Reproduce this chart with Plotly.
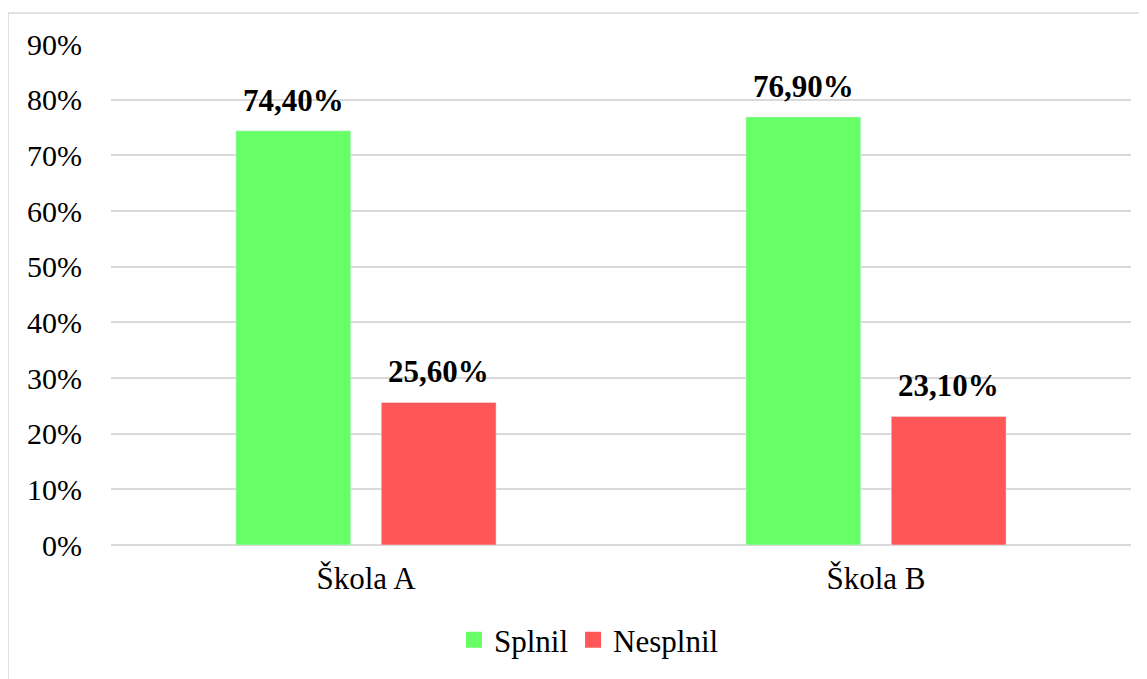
import plotly.graph_objects as go

categories = ["Škola A", "Škola B"]
splnil = [0.744, 0.769]
nesplnil = [0.256, 0.231]
splnil_labels = ["74,40%", "76,90%"]
nesplnil_labels = ["25,60%", "23,10%"]
tick_vals = [0, 0.1, 0.2, 0.3, 0.4, 0.5, 0.6, 0.7, 0.8, 0.9]
tick_text = ["0%", "10%", "20%", "30%", "40%", "50%", "60%", "70%", "80%", "90%"]

FONT = "Liberation Serif"
GREEN = "#66FF66"
RED = "#FF5757"

fig = go.Figure()
fig.add_trace(go.Bar(name="Splnil", x=categories, y=splnil, marker_color=GREEN, showlegend=False))
fig.add_trace(go.Bar(name="Nesplnil", x=categories, y=nesplnil, marker_color=RED, showlegend=False))
# legend entries with larger square symbols
fig.add_trace(go.Scatter(name="Splnil", x=[None], y=[None], mode="markers",
                         marker=dict(symbol="square", size=16, color=GREEN)))
fig.add_trace(go.Scatter(name="Nesplnil", x=[None], y=[None], mode="markers",
                         marker=dict(symbol="square", size=16, color=RED)))

annotations = []
for cat, v, t in zip(categories, splnil, splnil_labels):
    annotations.append(dict(x=cat, y=v, xref="x", yref="y", text="<b>%s</b>" % t,
                            showarrow=False, xshift=-72.5, yanchor="bottom", yshift=11,
                            font=dict(family=FONT, size=31, color="black")))
for cat, v, t in zip(categories, nesplnil, nesplnil_labels):
    annotations.append(dict(x=cat, y=v, xref="x", yref="y", text="<b>%s</b>" % t,
                            showarrow=False, xshift=72.5, yanchor="bottom", yshift=11,
                            font=dict(family=FONT, size=31, color="black")))

fig.update_layout(
    width=1139, height=671,
    margin=dict(l=103, r=16, t=36, b=132),
    paper_bgcolor="white", plot_bgcolor="white",
    font=dict(family=FONT, size=30, color="black"),
    barmode="group", bargap=0.43, bargroupgap=0.21,
    annotations=annotations,
    legend=dict(orientation="h", x=0.4686, xanchor="center", y=-0.19, yanchor="middle",
                font=dict(family=FONT, size=31, color="black")),
    shapes=[dict(type="rect", xref="paper", yref="paper",
                 x0=(0 - 103) / 1020, x1=1.2, y0=-0.5, y1=(539 - 5) / 503,
                 line=dict(color="#D9D9D9", width=1.5), fillcolor="rgba(0,0,0,0)", layer="below")],
)
fig.update_yaxes(range=[0, 0.9], tickvals=tick_vals, ticktext=tick_text,
                 showgrid=True, gridcolor="#D9D9D9", gridwidth=1.5,
                 zeroline=True, zerolinecolor="#D9D9D9", zerolinewidth=1.5,
                 showline=False, ticks="", ticklen=0, ticklabelstandoff=28,
                 tickfont=dict(family=FONT, size=30))
fig.update_xaxes(showline=False, showgrid=False, ticks="", ticklabelstandoff=12,
                 tickfont=dict(family=FONT, size=31))

fig.write_html("out.html")
